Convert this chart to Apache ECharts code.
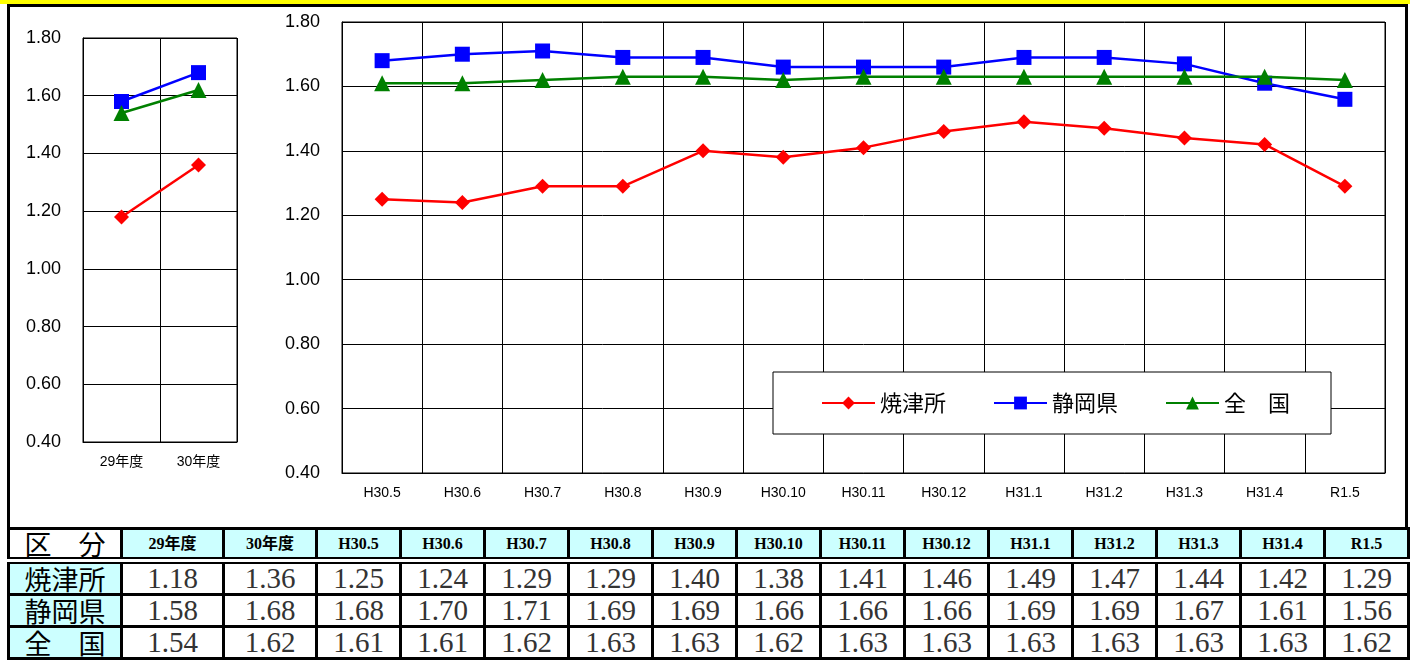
<!DOCTYPE html>
<html>
<head>
<meta charset="utf-8">
<script src="https://cdn.jsdelivr.net/npm/echarts@6/dist/echarts.min.js"></script>
<style>
  body { margin: 0; width: 1410px; height: 662px; overflow: hidden; position: relative; background: #fff; }
  #band { position: absolute; left: 0; top: 0; width: 1410px; height: 4px; background: #ffff00; }
  #frame { position: absolute; left: 7px; top: 4px; width: 1395px; height: 530px; border: 3px solid #000; border-bottom: none; pointer-events: none; }
  #chart { position: absolute; left: 0; top: 0; width: 1410px; height: 528px; }
  #table { position: absolute; left: 7px; top: 527px; border-collapse: collapse; table-layout: fixed; width: 1400px; background: #fff; }
  #table td { border: 3px solid #000; padding: 0; text-align: center; white-space: nowrap; overflow: hidden; height: 29px; }
  #table tr.head td { height: 27px; background: #ccffff; font: bold 16px/27px "Liberation Serif", "Noto Sans CJK JP", serif; color: #000; border-bottom: 7px double #000; }
  #table tr.head td.label { background: #fff; font: 27px/27px "Noto Sans CJK JP", sans-serif; }
  #table td.label { background: #ccffff; font: 27px/29px "Noto Sans CJK JP", sans-serif; color: #000; }
  #table td.num { font: 29px/29px "Liberation Serif", serif; color: #333; }
</style>
</head>
<body>
<div id="band"></div>
<div id="chart"></div>
<div id="frame"></div>
<table id="table"></table>
<script>
// categories
const yearCats = ["29年度", "30年度"];
const monthCats = ["H30.5", "H30.6", "H30.7", "H30.8", "H30.9", "H30.10", "H30.11", "H30.12", "H31.1", "H31.2", "H31.3", "H31.4", "R1.5"];
const seriesNames = ["焼津所", "静岡県", "全　国"];
const headLabel = "区　分";

// values (yearly averages)
const yaizuYear = [1.18, 1.36];
const shizuokaYear = [1.58, 1.68];
const zenkokuYear = [1.54, 1.62];

// values (monthly)
const yaizuMonth = [1.25, 1.24, 1.29, 1.29, 1.40, 1.38, 1.41, 1.46, 1.49, 1.47, 1.44, 1.42, 1.29];
const shizuokaMonth = [1.68, 1.70, 1.71, 1.69, 1.69, 1.66, 1.66, 1.66, 1.69, 1.69, 1.67, 1.61, 1.56];
const zenkokuMonth = [1.61, 1.61, 1.62, 1.63, 1.63, 1.62, 1.63, 1.63, 1.63, 1.63, 1.63, 1.63, 1.62];

// y axis ticks
const yMin = 0.4;
const yMax = 1.8;
const yStep = 0.2;

const colors = ["#ff0000", "#0000ff", "#008000"];
const symbols = ["diamond", "rect", "triangle"];
const symbolSizes = [15, 15, 16];

const sansFont = '"Liberation Sans", Arial, sans-serif';

function yAxisFor(gridIndex) {
  return {
    type: "value",
    gridIndex,
    min: yMin,
    max: yMax,
    interval: yStep,
    axisLine: { show: true, lineStyle: { color: "#000", width: 1 } },
    axisTick: { show: false },
    axisLabel: { color: "#000", fontSize: 18, fontFamily: sansFont, margin: 22, formatter: (v) => v.toFixed(2) },
    splitLine: { show: true, lineStyle: { color: "#000", width: 1 } },
  };
}

function xAxisFor(gridIndex, cats) {
  return {
    type: "category",
    gridIndex,
    data: cats,
    boundaryGap: true,
    axisLine: { show: true, lineStyle: { color: "#000", width: 1 } },
    axisTick: { show: false },
    axisLabel: { color: "#000", fontSize: 14, fontFamily: sansFont + ', "Noto Sans CJK JP"', margin: 13, interval: 0 },
    splitLine: { show: true, interval: 0, lineStyle: { color: "#000", width: 1 } },
  };
}

function lineSeries(i, data, gridIndex) {
  return {
    name: seriesNames[i],
    type: "line",
    xAxisIndex: gridIndex,
    yAxisIndex: gridIndex,
    data,
    symbol: symbols[i],
    symbolSize: symbolSizes[i],
    showAllSymbol: true,
    lineStyle: { color: colors[i], width: 2.5 },
    itemStyle: { color: colors[i] },
    z: 2 + i,
  };
}

const chart = echarts.init(document.getElementById("chart"), null, { renderer: "canvas" });
chart.setOption({
  animation: false,
  grid: [
    { left: 83, top: 38, width: 154, height: 404, show: true, borderColor: "#000", borderWidth: 1, backgroundColor: "transparent" },
    { left: 342, top: 22, width: 1043, height: 451, show: true, borderColor: "#000", borderWidth: 1, backgroundColor: "transparent" },
  ],
  xAxis: [xAxisFor(0, yearCats), xAxisFor(1, monthCats)],
  yAxis: [yAxisFor(0), yAxisFor(1)],
  legend: {
    data: seriesNames,
    left: 773,
    top: 372,
    padding: [20, 41, 20, 48],
    itemWidth: 53,
    itemHeight: 16,
    itemGap: 47,
    backgroundColor: "#fff",
    borderColor: "#000",
    borderWidth: 1,
    textStyle: { color: "#000", fontSize: 22, fontFamily: '"Noto Sans CJK JP", sans-serif' },
  },
  series: [
    lineSeries(0, yaizuYear, 0),
    lineSeries(1, shizuokaYear, 0),
    lineSeries(2, zenkokuYear, 0),
    lineSeries(0, yaizuMonth, 1),
    lineSeries(1, shizuokaMonth, 1),
    lineSeries(2, zenkokuMonth, 1),
  ],
});

// data table under the chart
const table = document.getElementById("table");
const colWidths = [113, 102, 93].concat(monthCats.map(() => 84));
table.innerHTML =
  "<colgroup>" + colWidths.map((w) => `<col style="width:${w}px">`).join("") + "</colgroup>" +
  `<tr class="head"><td class="label">${headLabel}</td>` +
  yearCats.concat(monthCats).map((c) => `<td>${c}</td>`).join("") + "</tr>" +
  [
    [yaizuYear, yaizuMonth],
    [shizuokaYear, shizuokaMonth],
    [zenkokuYear, zenkokuMonth],
  ].map(([yr, mo], i) =>
    `<tr><td class="label">${seriesNames[i]}</td>` +
    yr.concat(mo).map((v) => `<td class="num">${v.toFixed(2)}</td>`).join("") + "</tr>"
  ).join("");
</script>
</body>
</html>
